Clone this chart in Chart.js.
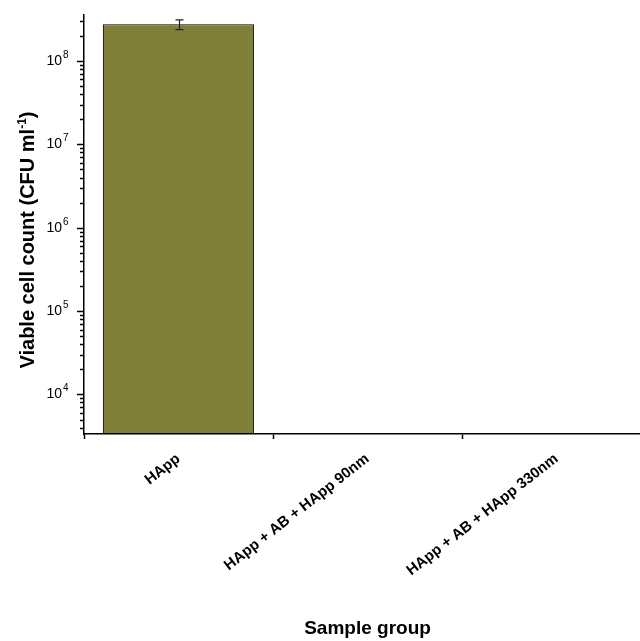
<!DOCTYPE html>
<html>
<head>
<meta charset="utf-8">
<script src="https://cdn.jsdelivr.net/npm/chart.js@4/dist/chart.umd.min.js"></script>
<style>
  html, body { margin: 0; padding: 0; background: #fff; overflow: hidden; }
  #chart { display: block; }
</style>
</head>
<body>
<canvas id="chart" width="660" height="641"></canvas>
<script>
// Viable cell counts per sample group
const groups = ['HApp', 'HApp + AB + HApp 90nm', 'HApp + AB + HApp 330nm'];
const viableCount = [2.75e8, 0, 0];
const countError = [0.37e8, 0, 0];

// Log axis: labelled decades and range
const decades = [4, 5, 6, 7, 8];
const yMin = 3.35e3;
const yMax = 3.56e8;

const FONT = "'Liberation Sans', Arial, Helvetica, sans-serif";

// build log ticks (1..9 x 10^n) inside the range
function logTicks() {
    const ticks = [];
    for (let e = Math.floor(Math.log10(yMin)); e <= Math.ceil(Math.log10(yMax)); e++) {
        for (let m = 1; m <= 9; m++) {
            const v = m * Math.pow(10, e);
            if (v >= yMin && v <= yMax) ticks.push({ value: v, major: m === 1 });
        }
    }
    return ticks;
}

function decadeOf(value) {
    const e = Math.round(Math.log10(value));
    return decades.includes(e) && Math.abs(value - Math.pow(10, e)) < 1e-6 * value ? e : null;
}

// short minor / long major tick marks on the y axis, plus the exponents
const yTickMarks = {
    id: 'yTickMarks',
    afterDraw(chart) {
        const y = chart.scales.y;
        const left = chart.chartArea.left;
        const ctx = chart.ctx;
        ctx.save();
        ctx.strokeStyle = '#000';
        ctx.lineWidth = 1.5;
        ctx.fillStyle = '#000';
        ctx.font = '10px ' + FONT;
        ctx.textAlign = 'left';
        ctx.textBaseline = 'middle';
        y.ticks.forEach(t => {
            const py = Math.round(y.getPixelForValue(t.value)) + 0.5;
            const len = t.major ? 7 : 4;
            ctx.beginPath();
            ctx.moveTo(left - len, py);
            ctx.lineTo(left, py);
            ctx.stroke();
            const e = decadeOf(t.value);
            if (e !== null) ctx.fillText(String(e), 63, py - 6);
        });
        ctx.restore();
    }
};

// error bars on top of the bars
const errorBars = {
    id: 'errorBars',
    afterDatasetsDraw(chart) {
        const meta = chart.getDatasetMeta(0);
        const y = chart.scales.y;
        const ctx = chart.ctx;
        ctx.save();
        ctx.strokeStyle = '#222';
        ctx.lineWidth = 1.2;
        meta.data.forEach((bar, i) => {
            if (!viableCount[i] || !countError[i]) return;
            const x = Math.round(bar.x) + 0.5;
            const yHi = y.getPixelForValue(viableCount[i] + countError[i]);
            const yLo = y.getPixelForValue(viableCount[i] - countError[i]);
            ctx.beginPath();
            ctx.moveTo(x, yHi); ctx.lineTo(x, yLo);
            ctx.moveTo(x - 4, yHi); ctx.lineTo(x + 4, yHi);
            ctx.moveTo(x - 4, yLo); ctx.lineTo(x + 4, yLo);
            ctx.stroke();
        });
        ctx.restore();
    }
};

// y axis title with a real superscript
const yTitle = {
    id: 'yTitle',
    afterDraw(chart) {
        const ctx = chart.ctx;
        const main = 'Viable cell count (CFU ml';
        const sup = '-1';
        const tail = ')';
        ctx.save();
        ctx.fillStyle = '#000';
        ctx.textBaseline = 'alphabetic';
        ctx.font = 'bold 20px ' + FONT;
        const wMain = ctx.measureText(main).width;
        const wTail = ctx.measureText(tail).width;
        ctx.font = 'bold 12px ' + FONT;
        const wSup = ctx.measureText(sup).width;
        const total = wMain + wSup + wTail;
        ctx.translate(34, 240);
        ctx.rotate(-Math.PI / 2);
        let x = -total / 2;
        ctx.font = 'bold 20px ' + FONT;
        ctx.fillText(main, x, 0);
        x += wMain;
        ctx.font = 'bold 12px ' + FONT;
        ctx.fillText(sup, x, -8);
        x += wSup;
        ctx.font = 'bold 20px ' + FONT;
        ctx.fillText(tail, x, 0);
        ctx.restore();
    }
};

document.addEventListener('DOMContentLoaded', () => {
    const ctx = document.getElementById('chart').getContext('2d');
    new Chart(ctx, {
        type: 'bar',
        data: {
            labels: groups,
            datasets: [{
                data: viableCount,
                backgroundColor: '#7f7f37',
                borderColor: '#000',
                borderWidth: 1,
                borderSkipped: false,
                barPercentage: 0.8,
                categoryPercentage: 1
            }]
        },
        options: {
            responsive: false,
            animation: false,
            layout: { padding: { top: 15, right: 9, left: 0, bottom: 0 } },
            plugins: {
                legend: { display: false },
                tooltip: { enabled: false }
            },
            scales: {
                x: {
                    offset: true,
                    grid: {
                        display: true,
                        offset: true,
                        drawOnChartArea: false,
                        tickLength: 5,
                        tickWidth: 1.5,
                        tickColor: '#000'
                    },
                    border: { display: true, color: '#000', width: 1.5 },
                    ticks: {
                        autoSkip: false,
                        minRotation: 38,
                        maxRotation: 38,
                        padding: 11,
                        color: '#000',
                        font: { family: FONT, size: 15, weight: 'bold' }
                    },
                    title: {
                        display: true,
                        text: 'Sample group',
                        color: '#000',
                        padding: { top: 0, bottom: 1 },
                        font: { family: FONT, size: 19, weight: 'bold' }
                    },
                    afterFit(scale) {
                        scale.height = 207;
                        scale.paddingLeft = 0;
                        scale.paddingRight = 0;
                    }
                },
                y: {
                    type: 'logarithmic',
                    min: yMin,
                    max: yMax,
                    grid: { display: false, drawTicks: false },
                    border: { display: true, color: '#000', width: 1.5 },
                    afterBuildTicks(scale) { scale.ticks = logTicks(); },
                    ticks: {
                        autoSkip: false,
                        padding: 22,
                        color: '#000',
                        font: { family: FONT, size: 14 },
                        callback(value) {
                            return decadeOf(value) !== null ? '10' : '';
                        }
                    },
                    afterFit(scale) {
                        scale.width = 84;
                        scale.paddingTop = 0;
                        scale.paddingBottom = 0;
                    }
                }
            }
        },
        plugins: [yTickMarks, errorBars, yTitle]
    });
});
</script>
</body>
</html>
